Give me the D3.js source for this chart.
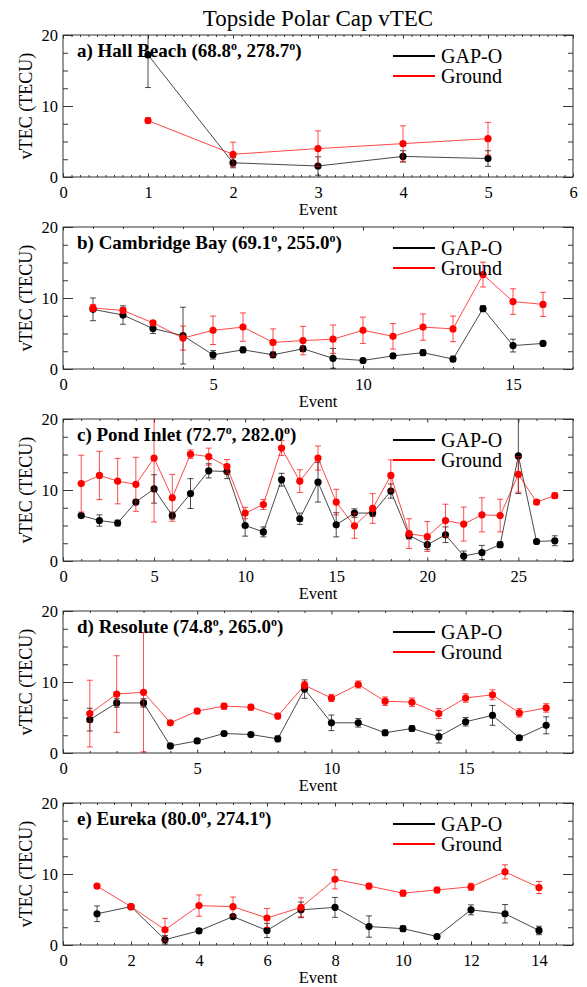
<!DOCTYPE html>
<html>
<head>
<meta charset="utf-8">
<script src="https://cdn.jsdelivr.net/npm/d3@7"></script>
<style>
  body { margin: 0; background: #fff; }
  svg { display: block; }
  text { font-family: "Liberation Serif", "Times New Roman", serif; fill: #000; }
</style>
</head>
<body>
<svg id="chart" width="587" height="987"></svg>
<script>
// ---- vTEC per event (TECU): GAP-O topside vs ground-based, with 1-sigma spreads ----

// a) Hall Beach
const hallGap      = [17.2, 2.0, 1.55, 2.9, 2.6];
const hallGapErr   = [4.6, 0.7, 1.3, 0.8, 1.1];
const hallGround   = [7.95, 3.2, 4.0, 4.7, 5.4];
const hallGroundErr= [0.4, 1.7, 2.5, 2.5, 2.3];

// b) Cambridge Bay
const cambGap      = [8.4, 7.6, 5.7, 4.7, 2.0, 2.7, 2.0, 2.85, 1.5, 1.2, 1.85, 2.3, 1.4, 8.5, 3.3, 3.6];
const cambGapErr   = [1.6, 1.3, 0.7, 4.0, 0.6, 0.4, 0.4, 0.4, 1.4, 0.3, 0.3, 0.4, 0.4, 0.4, 0.9, 0.3];
const cambGround   = [8.6, 8.25, 6.5, 4.35, 5.45, 5.9, 3.75, 4.0, 4.2, 5.45, 4.6, 5.9, 5.65, 13.3, 9.5, 9.1];
const cambGroundErr= [0.5, 0.4, 0.3, 1.7, 2.0, 2.0, 1.9, 2.0, 2.0, 1.85, 1.8, 1.85, 1.8, 1.75, 1.8, 1.7];

// c) Pond Inlet
const pondGap      = [6.4, 5.7, 5.35, 8.3, 10.15, 6.4, 9.5, 12.7, 12.6, 5.0, 4.1, 11.45, 5.95, 11.1,
                      5.1, 6.75, 6.75, 9.85, 3.6, 2.3, 3.7, 0.7, 1.2, 2.3, 14.8, 2.75, 2.85];
const pondGapErr   = [0.3, 0.8, 0.4, 0.3, 2.0, 0.5, 2.1, 1.0, 1.0, 1.5, 0.7, 0.9, 0.8, 2.8,
                      1.7, 0.6, 0.5, 1.0, 0.5, 0.7, 1.1, 0.7, 1.0, 0.4, 5.3, 0.3, 0.7];
const pondGround   = [10.9, 12.05, 11.25, 10.8, 14.5, 8.9, 15.05, 14.7, 13.3, 6.75, 7.95, 15.9, 11.25, 14.5,
                      8.3, 4.95, 7.4, 12.05, 3.85, 3.45, 5.7, 5.2, 6.5, 6.4, 12.2, 8.3, 9.2];
const pondGroundErr= [4.0, 3.4, 3.2, 3.8, 9.0, 3.3, 0.6, 1.2, 1.0, 0.8, 0.7, 1.05, 1.6, 1.7,
                      1.8, 1.75, 2.1, 2.2, 2.1, 2.1, 2.3, 2.4, 2.4, 2.3, 2.5, 0.3, 0.4];

// d) Resolute
const resoGap      = [4.7, 7.05, 7.05, 1.0, 1.7, 2.75, 2.6, 2.0, 9.0, 4.25, 4.25, 2.85, 3.45, 2.3, 4.4, 5.3, 2.15, 3.9];
const resoGapErr   = [1.6, 0.6, 0.6, 0.3, 0.3, 0.3, 0.3, 0.4, 1.3, 1.1, 0.6, 0.4, 0.4, 0.9, 0.6, 1.4, 0.3, 1.2];
const resoGround   = [5.55, 8.3, 8.55, 4.25, 5.9, 6.6, 6.45, 5.2, 9.55, 7.75, 9.65, 7.3, 7.15, 5.55, 7.75, 8.2, 5.65, 6.35];
const resoGroundErr= [4.7, 5.4, 8.4, 0.3, 0.4, 0.4, 0.4, 0.4, 0.5, 0.5, 0.5, 0.6, 0.6, 0.7, 0.6, 0.7, 0.6, 0.6];

// e) Eureka
const eurGap       = [4.4, 5.4, 0.75, 2.0, 4.0, 2.05, 4.95, 5.3, 2.6, 2.3, 1.2, 4.95, 4.4, 2.05];
const eurGapErr    = [1.1, 0.3, 0.6, 0.3, 0.3, 1.0, 1.1, 1.4, 1.5, 0.4, 0.3, 0.7, 1.3, 0.6];
const eurGround    = [8.3, 5.4, 2.15, 5.55, 5.4, 3.8, 5.3, 9.25, 8.3, 7.3, 7.75, 8.2, 10.3, 8.1];
const eurGroundErr = [0.3, 0.3, 1.6, 1.5, 1.35, 1.35, 1.35, 1.35, 0.4, 0.4, 0.4, 0.5, 1.0, 0.85];

// station titles and coordinates (geographic lat, lon in degrees)
const stationTags  = ["a)", "b)", "c)", "d)", "e)"];
const stationNames = ["Hall Beach", "Cambridge Bay", "Pond Inlet", "Resolute", "Eureka"];
const stationLat   = ["68.8", "69.1", "72.7", "74.8", "80.0"];
const stationLon   = ["278.7", "255.0", "282.0", "265.0", "274.1"];

// x tick layout for each panel: [major step, minor step]
const xTickSteps   = [[1, 0.1], [5, 1], [5, 1], [5, 1], [2, 0.5]];
const yTicks       = [0, 10, 20];
const seriesNames  = ["GAP-O", "Ground"];
const seriesColors = ["#000000", "#ff0000"];

const panels = [
  [hallGap, hallGapErr, hallGround, hallGroundErr],
  [cambGap, cambGapErr, cambGround, cambGroundErr],
  [pondGap, pondGapErr, pondGround, pondGroundErr],
  [resoGap, resoGapErr, resoGround, resoGroundErr],
  [eurGap,  eurGapErr,  eurGround,  eurGroundErr]
];

// ---- layout ----
const FONT = '"Liberation Serif", "Times New Roman", serif';
const svg = d3.select("#chart").attr("font-family", FONT);
const left = 63, right = 573, top0 = 35, panelStep = 192, panelH = 142;
const frameColor = "#333";

svg.append("text")
  .attr("x", (left + right) / 2).attr("y", 26)
  .attr("text-anchor", "middle")
  .style("font-family", FONT).style("font-size", "23px")
  .text("Topside Polar Cap vTEC");

panels.forEach((p, i) => {
  const top = top0 + i * panelStep, bottom = top + panelH;
  const n = p[0].length;
  const x = d3.scaleLinear().domain([0, n + 1]).range([left, right]);
  const y = d3.scaleLinear().domain([0, 20]).range([bottom, top]);
  const [maj, minr] = xTickSteps[i];
  const xMajor = d3.range(0, n + 1 + 1e-9, maj);
  const xMinor = d3.range(0, n + 1 + 1e-9, minr).filter(v => Math.abs(v / maj - Math.round(v / maj)) > 1e-6);
  const yMinor = d3.range(0, 20.01, 2.5).filter(v => v % 10 !== 0);

  const g = svg.append("g");

  // axes with inward ticks on all four sides
  g.append("g").attr("transform", `translate(0,${bottom})`)
    .call(d3.axisBottom(x).tickValues(xMajor).tickSize(-3.5).tickPadding(9).tickFormat(d3.format("d")));
  g.append("g").attr("transform", `translate(0,${bottom})`)
    .call(d3.axisBottom(x).tickValues(xMinor).tickSize(-2).tickFormat(""));
  g.append("g").attr("transform", `translate(0,${top})`)
    .call(d3.axisTop(x).tickValues(xMajor).tickSize(-3.5).tickFormat(""));
  g.append("g").attr("transform", `translate(0,${top})`)
    .call(d3.axisTop(x).tickValues(xMinor).tickSize(-2).tickFormat(""));
  g.append("g").attr("transform", `translate(${left},0)`)
    .call(d3.axisLeft(y).tickValues(yTicks).tickSize(-10).tickPadding(5).tickFormat(d3.format("d")));
  g.append("g").attr("transform", `translate(${left},0)`)
    .call(d3.axisLeft(y).tickValues(yMinor).tickSize(-5).tickFormat(""));
  g.append("g").attr("transform", `translate(${right},0)`)
    .call(d3.axisRight(y).tickValues(yTicks).tickSize(-10).tickFormat(""));
  g.append("g").attr("transform", `translate(${right},0)`)
    .call(d3.axisRight(y).tickValues(yMinor).tickSize(-5).tickFormat(""));

  g.selectAll("g").attr("font-family", FONT);
  g.selectAll(".domain").remove();
  g.selectAll(".tick line").attr("stroke", frameColor).attr("stroke-width", 1);
  g.selectAll(".tick text").attr("fill", "#000")
    .style("font-family", FONT).style("font-size", "16.5px");

  g.append("rect")
    .attr("x", left).attr("y", top).attr("width", right - left).attr("height", panelH)
    .attr("fill", "none").attr("stroke", frameColor).attr("stroke-width", 1);

  // axis titles
  g.append("text")
    .attr("x", (left + right) / 2).attr("y", bottom + 38)
    .attr("text-anchor", "middle")
    .style("font-family", FONT).style("font-size", "16.5px")
    .text("Event");
  g.append("text")
    .attr("transform", `translate(32,${(top + bottom) / 2}) rotate(-90)`)
    .attr("text-anchor", "middle")
    .style("font-family", FONT).style("font-size", "18px")
    .text("vTEC (TECU)");

  // data, clipped to the frame
  const clipId = "clip" + i;
  g.append("clipPath").attr("id", clipId)
    .append("rect").attr("x", left).attr("y", top).attr("width", right - left).attr("height", panelH);
  const plot = g.append("g").attr("clip-path", `url(#${clipId})`);

  [[p[0], p[1]], [p[2], p[3]]].forEach(([vals, errs], s) => {
    const color = seriesColors[s];
    const pts = vals.map((v, k) => ({ ev: k + 1, v, e: errs[k] }));
    const sg = plot.append("g");

    const eb = sg.selectAll(".err").data(pts).join("g").attr("stroke", color)
      .attr("stroke-width", 1).attr("stroke-opacity", 0.7);
    eb.append("line")
      .attr("x1", d => x(d.ev)).attr("x2", d => x(d.ev))
      .attr("y1", d => y(d.v - d.e)).attr("y2", d => y(d.v + d.e));
    eb.append("line")
      .attr("x1", d => x(d.ev) - 3).attr("x2", d => x(d.ev) + 3)
      .attr("y1", d => y(d.v - d.e)).attr("y2", d => y(d.v - d.e));
    eb.append("line")
      .attr("x1", d => x(d.ev) - 3).attr("x2", d => x(d.ev) + 3)
      .attr("y1", d => y(d.v + d.e)).attr("y2", d => y(d.v + d.e));

    sg.append("path").datum(pts)
      .attr("fill", "none").attr("stroke", color).attr("stroke-width", 0.9).attr("stroke-opacity", 0.8)
      .attr("d", d3.line().x(d => x(d.ev)).y(d => y(d.v)));

    sg.selectAll("circle").data(pts).join("circle")
      .attr("cx", d => x(d.ev)).attr("cy", d => y(d.v)).attr("r", 3.6)
      .attr("fill", color);
  });

  // station label with degree superscripts
  const lab = g.append("text").attr("x", 77).attr("y", top + 22)
    .style("font-family", FONT).style("font-size", "19px").style("font-weight", "bold");
  lab.append("tspan").text(`${stationTags[i]} ${stationNames[i]} (${stationLat[i]}`);
  lab.append("tspan").attr("dy", -7).style("font-size", "12px").text("o");
  lab.append("tspan").attr("dy", 7).text(`, ${stationLon[i]}`);
  lab.append("tspan").attr("dy", -7).style("font-size", "12px").text("o");
  lab.append("tspan").attr("dy", 7).text(")");

  // legend
  seriesNames.forEach((name, s) => {
    const ly = top + 21 + s * 20;
    g.append("line").attr("x1", 393).attr("x2", 435).attr("y1", ly).attr("y2", ly)
      .attr("stroke", seriesColors[s]).attr("stroke-width", 1.8);
    g.append("text").attr("x", 441).attr("y", ly + 7)
      .style("font-family", FONT).style("font-size", "20px").text(name);
  });
});
</script>
</body>
</html>
